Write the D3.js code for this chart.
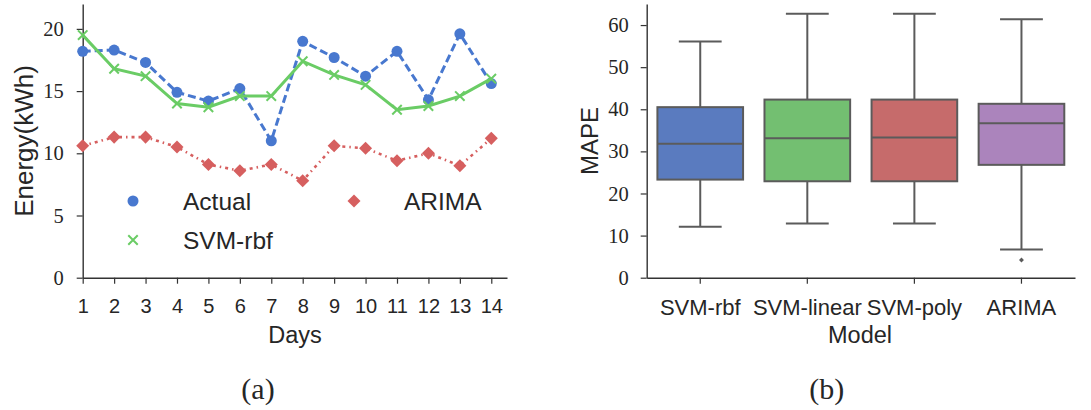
<!DOCTYPE html>
<html>
<head>
<meta charset="utf-8">
<script src="https://cdn.jsdelivr.net/npm/d3@7"></script>
<style>
body { margin: 0; background: #fff; }
svg text { fill: #262626; }
.sans { font-family: "Liberation Sans", Arial, sans-serif; }
.serif { font-family: "Liberation Serif", "Times New Roman", serif; }
</style>
</head>
<body>
<svg id="fig" width="1091" height="410"></svg>
<script>
// ---- data (a): daily energy
var days = [1,2,3,4,5,6,7,8,9,10,11,12,13,14];
var actual = [18.2,18.3,17.3,14.9,14.2,15.2,11.0,19.0,17.7,16.2,18.2,14.3,19.6,15.6];
var svmRbf = [19.5,16.8,16.2,14.0,13.7,14.6,14.6,17.4,16.3,15.5,13.5,13.8,14.6,16.0];
var arima  = [10.6,11.3,11.3,10.5,9.1,8.6,9.1,7.8,10.6,10.4,9.4,10.0,9.0,11.2];
var energyTicks = [0,5,10,15,20];

// ---- data (b): MAPE boxplots
var models   = ['SVM-rbf','SVM-linear','SVM-poly','ARIMA'];
var whiskLow = [12.1,12.9,12.9,6.7];
var q1       = [23.3,22.9,22.9,26.8];
var medians  = [31.8,33.1,33.3,36.7];
var q3       = [40.5,42.3,42.3,41.3];
var whiskHigh= [56.1,62.7,62.7,61.4];
var outliers = [[],[],[],[4.2]];
var mapeTicks = [0,10,20,30,40,50,60];

var blue = '#4878cf', green = '#6acc65', red = '#d65f5f';
var boxColors = ['#5a7bbf','#73bf71','#c66b6b','#ab84bc'];
var gray = '#5b5b5b';
var axisColor = '#333';

var svg = d3.select('#fig');

function styleAxis(g){
	g.select('.domain').attr('stroke', axisColor).attr('stroke-width', 1.4);
	g.selectAll('.tick line').attr('stroke', axisColor).attr('stroke-width', 1.2);
	g.selectAll('.tick text').attr('fill', '#333');
}

//------------------ panel (a)
var x = d3.scaleLinear().domain([1,14.5]).range([82.7,507]);
var y = d3.scaleLinear().domain([0,22]).range([277.7,4]);

var gx = svg.append('g')
	.attr('transform','translate(0,'+y(0)+')')
	.call(d3.axisBottom(x).tickValues(days).tickFormat(d3.format('d')).tickSize(6).tickSizeOuter(0).tickPadding(15));
gx.selectAll('text').attr('class','sans').attr('font-size',20);
styleAxis(gx);

var gy = svg.append('g')
	.attr('transform','translate('+x(1)+',0)')
	.call(d3.axisLeft(y).tickValues(energyTicks).tickSize(6).tickSizeOuter(0).tickPadding(13));
gy.selectAll('text').attr('class','serif').attr('font-size',20.5);
styleAxis(gy);

svg.append('text').attr('class','sans')
	.attr('transform','translate(33,141) rotate(-90)')
	.attr('text-anchor','middle')
	.attr('font-size',26)
	.text('Energy(kWh)');

svg.append('text').attr('class','sans')
	.attr('x',295).attr('y',342.5)
	.attr('text-anchor','middle')
	.attr('font-size',23.5)
	.text('Days');

var line = function(vals){
	return d3.line().x(function(d,i){ return x(days[i]); }).y(function(d){ return y(d); })(vals);
};

// actual
svg.append('path').attr('d', line(actual))
	.attr('fill','none').attr('stroke',blue).attr('stroke-width',3).attr('stroke-dasharray','8,4');
svg.append('g').selectAll('circle').data(actual).enter().append('circle')
	.attr('cx',function(d,i){ return x(days[i]); })
	.attr('cy',function(d){ return y(d); })
	.attr('r',5.5).attr('fill',blue);

// svm-rbf
svg.append('path').attr('d', line(svmRbf))
	.attr('fill','none').attr('stroke',green).attr('stroke-width',3);
var cross = d3.symbol().type(d3.symbolX).size(60);
svg.append('g').selectAll('path').data(svmRbf).enter().append('path')
	.attr('d',cross)
	.attr('transform',function(d,i){ return 'translate('+x(days[i])+','+y(d)+')'; })
	.attr('fill','none').attr('stroke',green).attr('stroke-width',2);

// arima
svg.append('path').attr('d', line(arima))
	.attr('fill','none').attr('stroke',red).attr('stroke-width',2.6).attr('stroke-dasharray','3,4,1.5,4');
var diamond = d3.symbol().type(d3.symbolSquare).size(85);
svg.append('g').selectAll('path').data(arima).enter().append('path')
	.attr('d',diamond)
	.attr('transform',function(d,i){ return 'translate('+x(days[i])+','+y(d)+') rotate(45)'; })
	.attr('fill',red);

// legend
var legend = svg.append('g');
legend.append('circle').attr('cx',133).attr('cy',201).attr('r',5.5).attr('fill',blue);
legend.append('text').attr('class','sans').attr('x',183).attr('y',209.5).attr('font-size',24.5).text('Actual');
legend.append('path').attr('d',cross).attr('transform','translate(133,240)')
	.attr('fill','none').attr('stroke',green).attr('stroke-width',2);
legend.append('text').attr('class','sans').attr('x',183).attr('y',248.5).attr('font-size',24.5).text('SVM-rbf');
legend.append('path').attr('d',diamond).attr('transform','translate(354,201) rotate(45)').attr('fill',red);
legend.append('text').attr('class','sans').attr('x',404).attr('y',209.5).attr('font-size',24.5).text('ARIMA');

svg.append('text').attr('class','serif')
	.attr('x',258).attr('y',399)
	.attr('text-anchor','middle')
	.attr('font-size',30)
	.text('(a)');

//------------------ panel (b)
var xb = d3.scaleBand().domain(models).range([646.7,1075]).padding(0);
var yb = d3.scaleLinear().domain([0,65]).range([277.7,4]);
var bw = xb.bandwidth()*0.8;

var gxb = svg.append('g')
	.attr('transform','translate(0,'+yb(0)+')')
	.call(d3.axisBottom(xb).tickSize(6).tickSizeOuter(0).tickPadding(16));
gxb.selectAll('text').attr('class','sans').attr('font-size',22);
styleAxis(gxb);

var gyb = svg.append('g')
	.attr('transform','translate(646.7,0)')
	.call(d3.axisLeft(yb).tickValues(mapeTicks).tickSize(6).tickSizeOuter(0).tickPadding(12));
gyb.selectAll('text').attr('class','serif').attr('font-size',20.5);
styleAxis(gyb);

svg.append('text').attr('class','sans')
	.attr('transform','translate(598,141) rotate(-90)')
	.attr('text-anchor','middle')
	.attr('font-size',24)
	.text('MAPE');

svg.append('text').attr('class','sans')
	.attr('x',860).attr('y',342.5)
	.attr('text-anchor','middle')
	.attr('font-size',23.5)
	.text('Model');

var boxes = svg.append('g').selectAll('g').data(models).enter().append('g');
function cx(m){ return xb(m)+xb.bandwidth()/2; }

// whiskers
boxes.append('line')
	.attr('x1',cx).attr('x2',cx)
	.attr('y1',function(d,i){ return yb(q3[i]); })
	.attr('y2',function(d,i){ return yb(whiskHigh[i]); })
	.attr('stroke',gray).attr('stroke-width',2);
boxes.append('line')
	.attr('x1',cx).attr('x2',cx)
	.attr('y1',function(d,i){ return yb(q1[i]); })
	.attr('y2',function(d,i){ return yb(whiskLow[i]); })
	.attr('stroke',gray).attr('stroke-width',2);
// caps
boxes.append('line')
	.attr('x1',function(d){ return cx(d)-bw/4; }).attr('x2',function(d){ return cx(d)+bw/4; })
	.attr('y1',function(d,i){ return yb(whiskHigh[i]); }).attr('y2',function(d,i){ return yb(whiskHigh[i]); })
	.attr('stroke',gray).attr('stroke-width',2);
boxes.append('line')
	.attr('x1',function(d){ return cx(d)-bw/4; }).attr('x2',function(d){ return cx(d)+bw/4; })
	.attr('y1',function(d,i){ return yb(whiskLow[i]); }).attr('y2',function(d,i){ return yb(whiskLow[i]); })
	.attr('stroke',gray).attr('stroke-width',2);
// box
boxes.append('rect')
	.attr('x',function(d){ return cx(d)-bw/2; })
	.attr('width',bw)
	.attr('y',function(d,i){ return yb(q3[i]); })
	.attr('height',function(d,i){ return yb(q1[i])-yb(q3[i]); })
	.attr('fill',function(d,i){ return boxColors[i]; })
	.attr('stroke',gray).attr('stroke-width',2);
// median
boxes.append('line')
	.attr('x1',function(d){ return cx(d)-bw/2; }).attr('x2',function(d){ return cx(d)+bw/2; })
	.attr('y1',function(d,i){ return yb(medians[i]); }).attr('y2',function(d,i){ return yb(medians[i]); })
	.attr('stroke',gray).attr('stroke-width',2);
// fliers
var smallDiamond = d3.symbol().type(d3.symbolSquare).size(12);
boxes.each(function(d,i){
	d3.select(this).selectAll('path.flier').data(outliers[i]).enter().append('path')
		.attr('class','flier')
		.attr('d',smallDiamond)
		.attr('transform',function(v){ return 'translate('+cx(d)+','+yb(v)+') rotate(45)'; })
		.attr('fill',gray);
});

svg.append('text').attr('class','serif')
	.attr('x',826.7).attr('y',399)
	.attr('text-anchor','middle')
	.attr('font-size',30)
	.text('(b)');
</script>
</body>
</html>
